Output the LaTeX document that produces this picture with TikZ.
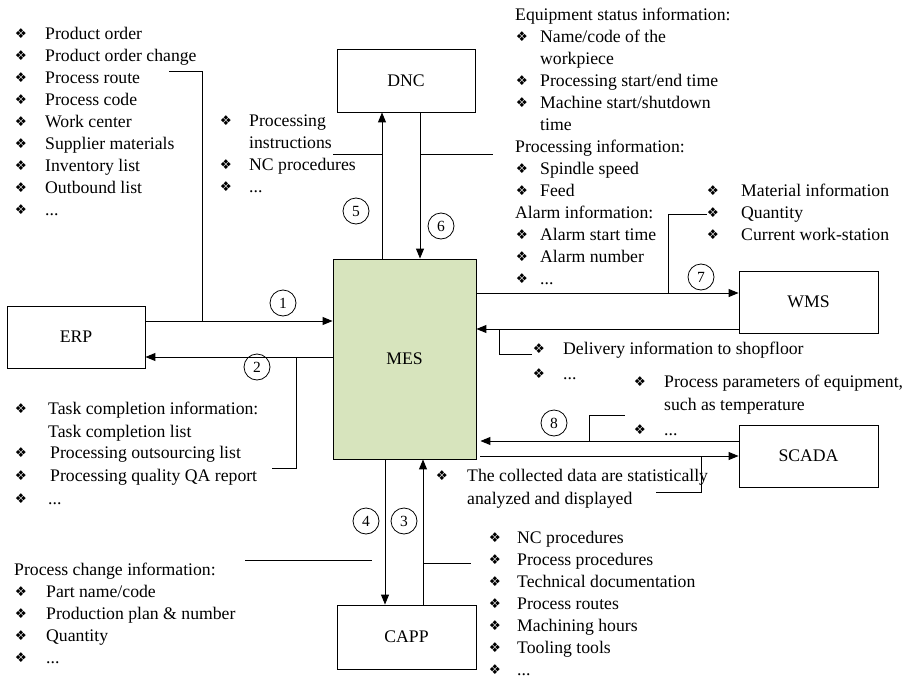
\documentclass[tikz,border=0pt]{standalone}
\usepackage{fontspec}
\setmainfont{Liberation Serif}
\newfontfamily\dejavu{DejaVu Sans}
\usetikzlibrary{arrows.meta}
\newcommand\fs{\fontsize{17.7}{22}\selectfont}
\newcommand\bulsym{\dejavu\fontsize{13.5}{13.5}\selectfont ❖}
% #1 name, #2 bullet x, #3 text x, #4 y, #5 text
\newcommand\itm[5]{\node[bul] (#1b) at (#2,#4) {\bulsym}; \node[txt] (#1) at (#3,#4+5.5) {#5};}
\newcommand\lin[4]{\node[txt] (#1) at (#2,#3+5.5) {#4};}
\begin{document}
\begin{tikzpicture}[x=1pt,y=-1pt,
  box/.style={draw, line width=0.9pt, inner sep=0pt, font=\fs},
  txt/.style={anchor=base west, inner sep=0pt, font=\fs},
  bul/.style={inner sep=0pt},
  num/.style={draw, circle, line width=0.8pt, minimum size=26pt, inner sep=0pt, font=\fontsize{15.5}{15.5}\selectfont},
  arr/.style={-{Triangle[length=10pt,width=8pt]}, line width=1pt},
  ln/.style={line width=1pt}]
\useasboundingbox (0,0) rectangle (907,680);
\fill[white] (0,0) rectangle (907,680);

% boxes
\node[box, minimum width=138pt, minimum height=62pt] (ERP) at (76,337) {ERP};
\node[box, fill={rgb,255:red,215;green,228;blue,189}, minimum width=143pt, minimum height=200pt] (MES) at (404.5,359) {MES};
\node[box, minimum width=138pt, minimum height=63pt] (DNC) at (406,80.5) {DNC};
\node[box, minimum width=139pt, minimum height=62pt] (WMS) at (808.5,302) {WMS};
\node[box, minimum width=139pt, minimum height=62pt] (SCADA) at (808.5,456) {SCADA};
\node[box, minimum width=139pt, minimum height=64pt] (CAPP) at (406.5,637) {CAPP};

% arrows
\draw[arr] (ERP.east |- 0,321) -- (MES.west |- 0,321);
\draw[arr] (MES.west |- 0,357) -- (ERP.east |- 0,357);
\draw[arr] (MES.north -| 382,0) -- (DNC.south -| 382,0);
\draw[arr] (DNC.south -| 420,0) -- (MES.north -| 420,0);
\draw[arr] (MES.east |- 0,293) -- (WMS.west |- 0,293);
\draw[arr] (WMS.west |- 0,329) -- (MES.east |- 0,329);
\draw[arr, shorten >=4pt] (SCADA.west |- 0,441) -- (MES.east |- 0,441);
\draw[arr, shorten <=4pt] (MES.east |- 0,456) -- (SCADA.west |- 0,456);
\draw[arr] (MES.south -| 385,0) -- (CAPP.north -| 385,0);
\draw[arr] (CAPP.north -| 423,0) -- (MES.south -| 423,0);

% number circles
\node[num] (n1) at (283,303) {1};
\node[num] (n2) at (257,367) {2};
\node[num] (n3) at (404,521) {3};
\node[num] (n4) at (366,521) {4};
\node[num] (n5) at (356,211) {5};
\node[num] (n6) at (441,226) {6};
\node[num] (n7) at (701,277) {7};
\node[num] (n8) at (554,423) {8};

% branch lines
\coordinate (c1) at (202,321);
\draw[ln] (169,71) -- (202,71) -- (c1);
\coordinate (c2) at (296,357);
\draw[ln] (c2) -- (296,468) -- (272,468);
\coordinate (c5) at (382,154);
\draw[ln] (333,154) -- (c5);
\coordinate (c6) at (420,154);
\draw[ln] (c6) -- (493,154);
\coordinate (c7) at (668,293);
\draw[ln] (c7) -- (668,214) -- (707,214);
\coordinate (cw) at (499,329);
\draw[ln] (cw) -- (499,354) -- (532,354);
\coordinate (c8) at (589,441);
\draw[ln] (c8) -- (589,415) -- (625,415);
\coordinate (cs) at (701,456);
\draw[ln] (cs) -- (701,492) -- (656,492);
\draw[ln] (245,560) -- (372,560);
\coordinate (c3) at (423,563);
\draw[ln] (c3) -- (471,563);

% ERP input list
\itm{a1}{21}{45}{34}{Product order}
\itm{a2}{21}{45}{56}{Product order change}
\itm{a3}{21}{45}{78}{Process route}
\itm{a4}{21}{45}{100}{Process code}
\itm{a5}{21}{45}{122}{Work center}
\itm{a6}{21}{45}{144}{Supplier materials}
\itm{a7}{21}{45}{166}{Inventory list}
\itm{a8}{21}{45}{188}{Outbound list}
\itm{a9}{21}{45}{210}{...}

% DNC input list
\itm{b1}{226}{249}{121}{Processing}
\lin{b2}{249}{143}{instructions}
\itm{b3}{226}{249}{165}{NC procedures}
\itm{b4}{226}{249}{187}{...}

% DNC output list
\lin{d0}{515}{15}{Equipment status information:}
\itm{d1}{522}{540}{37}{Name/code of the}
\lin{d2}{540}{59}{workpiece}
\itm{d3}{522}{540}{81}{Processing start/end time}
\itm{d4}{522}{540}{103}{Machine start/shutdown}
\lin{d5}{540}{125}{time}
\lin{d6}{515}{147}{Processing information:}
\itm{d7}{522}{540}{169}{Spindle speed}
\itm{d8}{522}{540}{191}{Feed}
\lin{d9}{515}{213}{Alarm information:}
\itm{d10}{522}{540}{235}{Alarm start time}
\itm{d11}{522}{540}{257}{Alarm number}
\itm{d12}{522}{540}{279}{...}

% WMS input list
\itm{m1}{713}{741}{191}{Material information}
\itm{m2}{713}{741}{213}{Quantity}
\itm{m3}{713}{741}{235}{Current work-station}

% WMS output list
\itm{w1}{539}{563}{349}{Delivery information to shopfloor}
\itm{w2}{539}{563}{374}{...}

% SCADA output list
\itm{s1}{640}{664}{382}{Process parameters of equipment,}
\lin{s2}{664}{405}{such as temperature}
\itm{s3}{640}{664}{430}{...}

% SCADA input list
\itm{t1}{442}{467}{476}{The collected data are statistically}
\lin{t2}{467}{499}{analyzed and displayed}

% ERP output list
\itm{e1}{21}{48}{409}{Task completion information:}
\lin{e2}{48}{432}{Task completion list}
\itm{e3}{21}{50}{453}{Processing outsourcing list}
\itm{e4}{21}{50}{476}{Processing quality QA report}
\itm{e5}{21}{48}{499}{...}

% CAPP output list
\itm{p1}{495}{517}{538}{NC procedures}
\itm{p2}{495}{517}{560}{Process procedures}
\itm{p3}{495}{517}{582}{Technical documentation}
\itm{p4}{495}{517}{604}{Process routes}
\itm{p5}{495}{517}{626}{Machining hours}
\itm{p6}{495}{517}{648}{Tooling tools}
\itm{p7}{495}{517}{670}{...}

% CAPP input list
\lin{q0}{14}{570}{Process change information:}
\itm{q1}{21}{46}{592}{Part name/code}
\itm{q2}{21}{46}{614}{Production plan \& number}
\itm{q3}{21}{46}{636}{Quantity}
\itm{q4}{21}{46}{658}{...}
\end{tikzpicture}
\end{document}
